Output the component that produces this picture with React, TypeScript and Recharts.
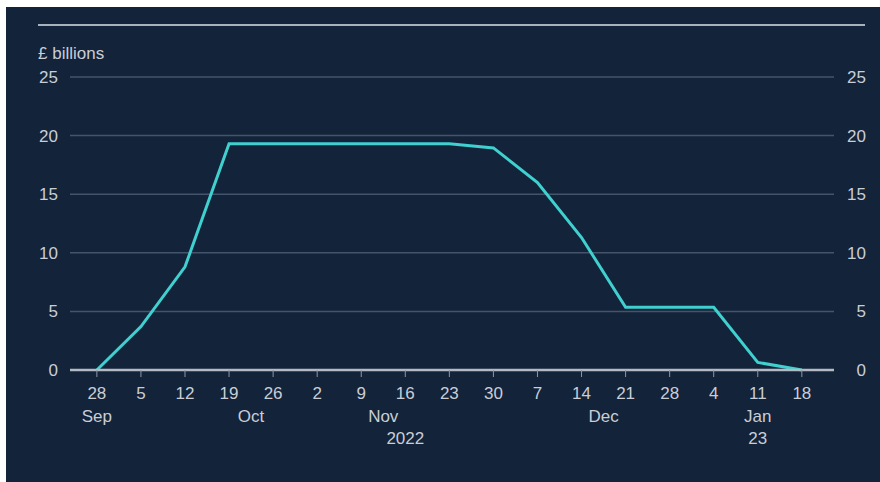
import React from 'react';
import { LineChart, Line, XAxis, YAxis, CartesianGrid } from 'recharts';

const dayLabels = ['28', '5', '12', '19', '26', '2', '9', '16', '23', '30', '7', '14', '21', '28', '4', '11', '18'];
const values = [0, 3.7, 8.8, 19.3, 19.3, 19.3, 19.3, 19.3, 19.3, 18.95, 16.0, 11.3, 5.35, 5.35, 5.35, 0.65, 0];
const yTicks = [0, 5, 10, 15, 20, 25];
// month / year labels: position in weeks from 28 Sep, row (1 = under day, 2 = below)
const monthLabels = [
  { at: 0, row: 1, text: 'Sep' },
  { at: 3.5, row: 1, text: 'Oct' },
  { at: 6.5, row: 1, text: 'Nov' },
  { at: 7, row: 2, text: '2022' },
  { at: 11.5, row: 1, text: 'Dec' },
  { at: 15, row: 1, text: 'Jan' },
  { at: 15, row: 2, text: '23' },
];

const data = values.map((v, i) => ({ w: i, v }));
const xTicks = Array.from(new Set([...dayLabels.map((_, i) => i), ...monthLabels.map((m) => m.at)])).sort((a, b) => a - b);

const TEXT = '#c9ced6';
const FONT = 'Liberation Sans, Arial, sans-serif';
const FS = 17;

const XTick = (props: any) => {
  const { x, y, payload } = props;
  const val = payload.value as number;
  const isDay = Number.isInteger(val);
  const months = monthLabels.filter((m) => m.at === val);
  return (
    <g>
      {isDay && <line x1={x} x2={x} y1={y} y2={y + 7} stroke="#8e97a5" strokeWidth={1} />}
      {isDay && (
        <text x={x} y={y + 29} textAnchor="middle" fill={TEXT} fontSize={FS} fontFamily={FONT}>
          {dayLabels[val]}
        </text>
      )}
      {months.map((m) => (
        <text key={m.text} x={x} y={y + 52 + (m.row - 1) * 22} textAnchor="middle" fill={TEXT} fontSize={FS} fontFamily={FONT}>
          {m.text}
        </text>
      ))}
    </g>
  );
};

// draws the label on the left and its mirror on the right side of the plot
const YTick = (props: any) => {
  const { x, y, payload } = props;
  return (
    <g>
      <text x={x} y={y + 6} textAnchor="end" fill={TEXT} fontSize={FS} fontFamily={FONT}>
        {payload.value}
      </text>
      <text x={x + 808} y={y + 6} textAnchor="end" fill={TEXT} fontSize={FS} fontFamily={FONT}>
        {payload.value}
      </text>
    </g>
  );
};

export default function App() {
  return (
    <div style={{ position: 'absolute', left: 0, top: 0, width: 880, height: 482, background: '#ffffff', overflow: 'hidden' }}>
      <div style={{ position: 'absolute', left: 6, top: 7, width: 900, height: 500, background: '#13233a' }} />
      <svg width={880} height={482} style={{ position: 'absolute', left: 0, top: 0 }}>
        <line x1={38} x2={865} y1={25} y2={25} stroke="#a9b1bc" strokeWidth={2} />
        <text x={38} y={59} fill={TEXT} fontSize={FS} fontFamily={FONT}>£ billions</text>
      </svg>
      <div style={{ position: 'absolute', left: 0, top: 0 }}>
        <LineChart width={880} height={482} data={data} margin={{ top: 77, right: 46, bottom: 0, left: 0 }}>
          <CartesianGrid vertical={false} stroke="#44546a" strokeWidth={1.5} horizontalValues={[5, 10, 15, 20, 25]} />
          <XAxis
            dataKey="w"
            type="number"
            domain={[-0.61, 16.73]}
            ticks={xTicks}
            interval={0}
            allowDataOverflow
            tickLine={false}
            tickSize={0}
            tickMargin={0}
            axisLine={{ stroke: '#b4bac3', strokeWidth: 2.5 }}
            tick={<XTick />}
            height={112}
          />
          <YAxis
            orientation="left"
            width={70}
            domain={[0, 25]}
            ticks={yTicks}
            interval={0}
            axisLine={false}
            tickLine={false}
            tickSize={0}
            tickMargin={12}
            tick={<YTick />}
          />
          <Line
            type="linear"
            dataKey="v"
            stroke="#3fd0cf"
            strokeWidth={3}
            dot={false}
            isAnimationActive={false}
          />
        </LineChart>
      </div>
    </div>
  );
}
